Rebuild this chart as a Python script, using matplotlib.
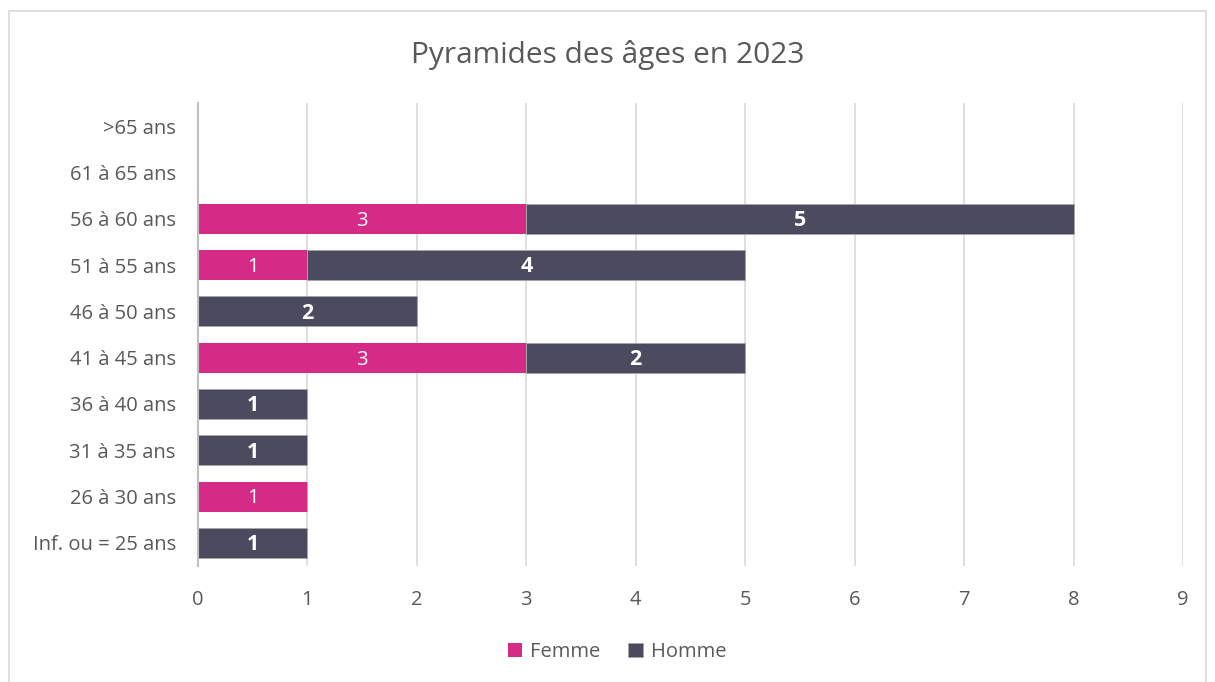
import numpy as np
import matplotlib.pyplot as plt
from matplotlib.patches import Rectangle

plt.rcParams['font.family'] = ['Open Sans', 'DejaVu Sans']

categories = ['Inf. ou = 25 ans', '26 à 30 ans', '31 à 35 ans', '36 à 40 ans',
              '41 à 45 ans', '46 à 50 ans', '51 à 55 ans', '56 à 60 ans',
              '61 à 65 ans', '>65 ans']
femme = [0, 1, 0, 0, 3, 0, 1, 3, 0, 0]
homme = [1, 0, 1, 1, 2, 2, 4, 5, 0, 0]

c_femme = '#D62A87'
c_homme = '#4B4A5F'
c_text = '#595959'

fig = plt.figure(figsize=(12.15, 6.82), dpi=100)
ax = fig.add_axes([198 / 1215, 1 - 566 / 682, (1183 - 198) / 1215, (566 - 103) / 682])

y = np.arange(len(categories))
ax.barh(y, femme, height=0.65, color=c_femme, label='Femme', zorder=3)
ax.barh(y, homme, left=femme, height=0.65, color=c_homme, label='Homme',
        edgecolor='#A6A6A6', linewidth=0.6, zorder=3)

for i in range(len(categories)):
    if femme[i] > 0:
        ax.text(femme[i] / 2, y[i] - 0.04, str(femme[i]), color='white', fontsize=14.5,
                ha='center', va='center', zorder=4)
    if homme[i] > 0:
        ax.text(femme[i] + homme[i] / 2, y[i] - 0.04, str(homme[i]), color='white',
                fontsize=15.5, fontweight='bold', ha='center', va='center', zorder=4)

ax.set_xlim(0, 9)
ax.set_ylim(-0.5, len(categories) - 0.5)
ax.set_xticks(range(10))
ax.set_yticks(y)
ax.set_yticklabels(categories)
ax.tick_params(axis='both', length=0, labelsize=14.5, colors=c_text)
ax.tick_params(axis='x', pad=17)
ax.tick_params(axis='y', pad=16)
ax.grid(axis='x', color='#D9D9D9', linewidth=1.2, zorder=0)
for s in ['top', 'right', 'bottom']:
    ax.spines[s].set_visible(False)
ax.spines['left'].set_color('#BFBFBF')
ax.spines['left'].set_linewidth(1.5)
ax.spines['left'].set_zorder(5)

fig.text(0.5, 1 - 55 / 682, 'Pyramides des âges en 2023', ha='center', va='center',
         fontsize=21.5, color=c_text)

leg = fig.legend(loc='center', bbox_to_anchor=(617 / 1215, 1 - 652 / 682), ncol=2,
                 frameon=False, fontsize=14.5, handlelength=0.7, handleheight=0.7,
                 handletextpad=0.4, columnspacing=1.4)
for t in leg.get_texts():
    t.set_color(c_text)

fig.patches.append(Rectangle((9 / 1215, -0.01), 1 - 18 / 1215, 1 - 11 / 682 + 0.01,
                             transform=fig.transFigure, fill=False,
                             edgecolor='#D9D9D9', linewidth=1.2))

fig.savefig('out.png', dpi=100)
